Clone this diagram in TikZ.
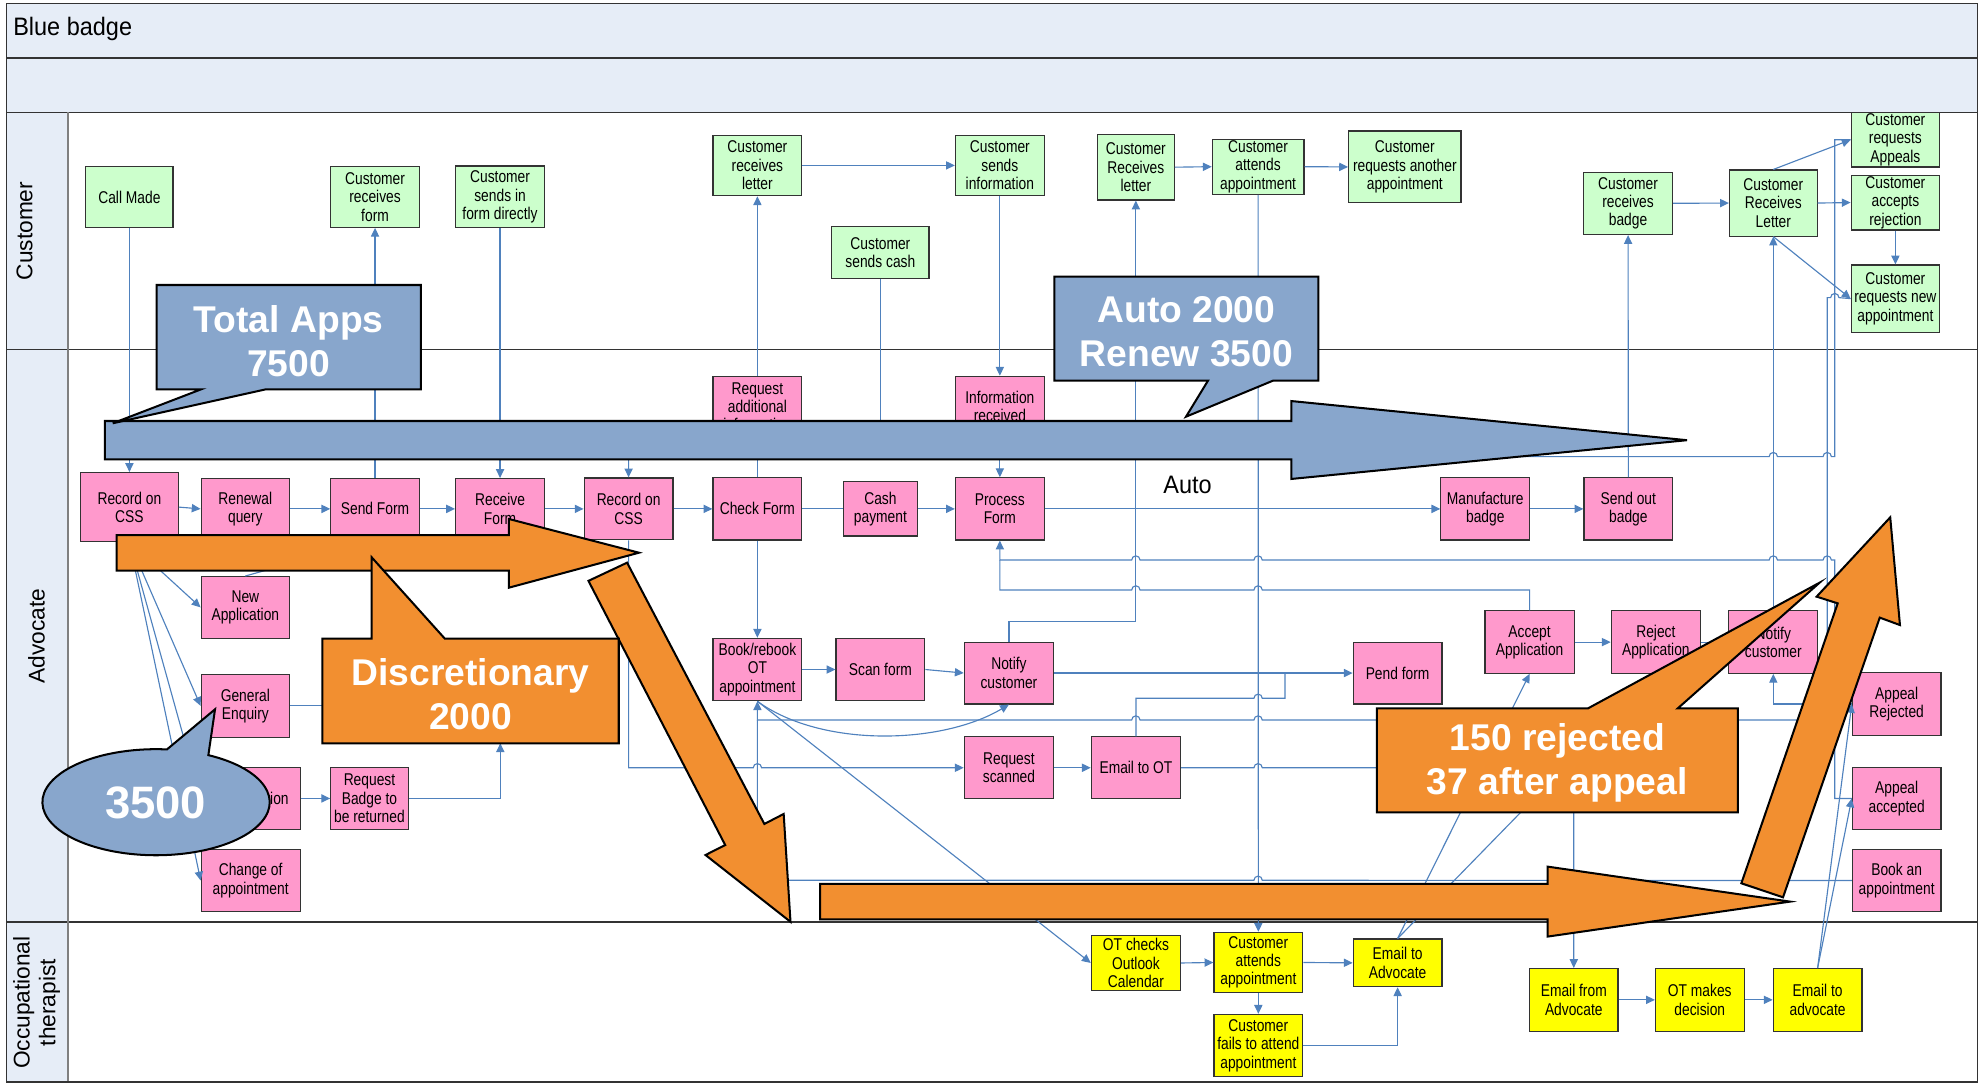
\documentclass[tikz,border=0pt]{standalone}
\usepackage{fontspec}
\setmainfont{Liberation Sans}
\newfontfamily\boxfont[FakeStretch=0.81]{Liberation Sans}
\newfontfamily\narrowfont[FakeStretch=0.93]{Liberation Sans}
\usetikzlibrary{arrows.meta}
\definecolor{laneblue}{HTML}{E6EDF7}
\definecolor{custgreen}{HTML}{CCFFCC}
\definecolor{advpink}{HTML}{FF99CC}
\definecolor{otyellow}{HTML}{FFFF00}
\definecolor{linkblue}{HTML}{4F81BD}
\definecolor{callblue}{HTML}{88A6CC}
\definecolor{callorange}{HTML}{F28F30}

\begin{document}
\begin{tikzpicture}[x=1pt,y=-1pt,
  lanerule/.style={draw=black!80, line width=1.1pt},
  lanelabel/.style={rotate=90, align=center, font=\fontsize{18}{20.5}\selectfont},
  box/.style={draw=black!80, line width=0.9pt, inner sep=0pt, align=center,
    font=\boxfont\fontsize{13.5}{14.5}\selectfont, minimum width=70, minimum height=49},
  cust/.style={box, fill=custgreen},
  adv/.style={box, fill=advpink},
  ot/.style={box, fill=otyellow},
  conn/.style={draw=linkblue, line width=0.9pt},
  arr/.style={conn, -{Triangle[length=7pt,width=6.5pt]}},
  rarr/.style={conn, {Triangle[length=7pt,width=6.5pt]}-},
  jump/.style args={#1/#2}{insert path={-- (#1-3.3,#2) arc[start angle=180,end angle=360,radius=3.3]}},
  bluecall/.style={fill=callblue, draw=black, line width=1.6pt, line join=miter},
  orangecall/.style={fill=callorange, draw=black, line width=1.6pt, line join=miter},
  calltext/.style={text=white, align=center, font=\bfseries\fontsize{29.5}{35}\selectfont}
]
\useasboundingbox (0,0) rectangle (1568,858);

% ---------- pool and swimlanes ----------
\fill[laneblue] (5,3) rectangle (1566,89);
\fill[laneblue] (5,89) rectangle (54,857);
\draw[lanerule] (5,46) -- (1566,46);
\draw[lanerule] (5,89) -- (1566,89);
\draw[lanerule] (5,276.6) -- (1566,276.6);
\draw[lanerule] (5,730) -- (1566,730);
\draw[draw=black!50, line width=1.6pt] (54,89) -- (54,857);
\draw[lanerule] (5,3) rectangle (1566,857);

\node[anchor=west, font=\narrowfont\fontsize{20}{24}\selectfont] (title) at (7,23) {Blue badge};
\node[lanelabel] (lanecust) at (19.5,183) {Customer};
\node[lanelabel] (laneadv) at (29,503.5) {Advocate};
\node[lanelabel] (laneot) at (29,794) {Occupational\\therapist};

% ---------- Customer lane ----------
\node[cust, minimum width=69, minimum height=48] (callmade) at (102.5,156) {Call Made};
\node[cust, minimum height=48] (custrecform) at (297,156) {Customer\\receives\\form};
\node[cust] (custsendsin) at (396,156) {Customer\\sends in\\form directly};
\node[cust, minimum width=70.4, minimum height=48] (custrecletter) at (599.8,131) {Customer\\receives\\letter};
\node[cust, minimum width=70.4, minimum height=48] (custsendsinfo) at (791.8,131) {Customer\\sends\\information};
\node[cust, minimum width=77, minimum height=41] (custcash) at (697.2,200) {Customer\\sends cash};
\node[cust, minimum width=61, minimum height=52] (custletter2) at (899.5,132.4) {Customer\\Receives\\letter};
\node[cust, minimum width=72.6, minimum height=43.6] (custattends) at (996.3,132) {Customer\\attends\\appointment};
\node[cust, minimum width=89, minimum height=57] (custanother) at (1112.5,132.2) {Customer\\requests another\\appointment};
\node[cust, minimum width=70.6, minimum height=49.4] (custbadge) at (1289.3,161) {Customer\\receives\\badge};
\node[cust, minimum width=69.4, minimum height=52.3] (custletter3) at (1404.3,160.8) {Customer\\Receives\\Letter};
\node[cust, minimum height=43] (custappeals) at (1501,110.7) {Customer\\requests\\Appeals};
\node[cust, minimum height=43.5] (custaccepts) at (1501,160.4) {Customer\\accepts\\rejection};
\node[cust, minimum height=53.3] (custnewappt) at (1501,236.5) {Customer\\requests new\\appointment};

% ---------- Advocate lane ----------
\node[adv, minimum width=70.4, minimum height=48] (reqadd) at (599.8,322) {Request\\additional\\information};
\node[adv, minimum width=70.4, minimum height=48] (inforec) at (791.8,322) {Information\\received};
\node[adv, minimum width=77.6, minimum height=54.7] (css1) at (102.5,401.6) {Record on\\CSS};
\node[adv, minimum height=48] (renewal) at (194.3,403) {Renewal\\query};
\node[adv, minimum height=48] (sendform) at (297,403) {Send Form};
\node[adv, minimum width=70.4, minimum height=48] (recvform) at (396,403) {Receive\\Form};
\node[adv, minimum width=70.4] (css2) at (497.8,403) {Record on\\CSS};
\node[adv, minimum width=70.4, minimum height=49.3] (checkform) at (599.8,403) {Check Form};
\node[adv, minimum width=58.3, minimum height=43] (cashpay) at (697.2,403) {Cash\\payment};
\node[adv, minimum width=70.4, minimum height=49.3] (procform) at (791.8,403) {Process\\Form};
\node[adv, minimum width=70.3, minimum height=49.3] (manuf) at (1176.2,403) {Manufacture\\badge};
\node[adv, minimum width=70.3, minimum height=49.3] (sendout) at (1289.5,403) {Send out\\badge};
\node[adv, minimum height=48.8] (newapp) at (194.3,481) {New\\Application};
\node[adv, minimum height=49.4] (general) at (194.3,559) {General\\Enquiry};
\node[adv, minimum width=78.3, minimum height=48.8] (cancel) at (198.5,632.3) {Cancellation};
\node[adv, minimum width=61.3, minimum height=48.8] (reqbadge) at (292.6,632.3) {Request\\Badge to\\be returned};
\node[adv, minimum width=78.3, minimum height=49.4] (changeappt) at (198.5,697.3) {Change of\\appointment};
\node[adv, minimum width=70.4, minimum height=49.4] (book) at (599.8,530.2) {Book/rebook\\OT\\appointment};
\node[adv, minimum width=70.3, minimum height=49.4] (scan) at (697.2,530.2) {Scan form};
\node[adv, minimum width=70.7] (notify1) at (799,533) {Notify\\customer};
\node[adv, minimum width=70.3] (pend) at (1106.8,533) {Pend form};
\node[adv, minimum width=70.6, minimum height=49.4] (accept) at (1211.3,508.5) {Accept\\Application};
\node[adv, minimum width=70.6, minimum height=49.4] (reject) at (1311.3,508.5) {Reject\\Application};
\node[adv, minimum width=70.6, minimum height=49.4] (notify2) at (1404.3,508.5) {Notify\\customer};
\node[adv, minimum width=70.2, minimum height=49.5] (apprej) at (1502,557.5) {Appeal\\Rejected};
\node[adv, minimum width=70.2, minimum height=48.8] (appacc) at (1502,632.3) {Appeal\\accepted};
\node[adv, minimum width=70.2, minimum height=49.4] (bookan) at (1502,697.3) {Book an\\appointment};
\node[adv, minimum width=70.7] (reqscan) at (799,608) {Request\\scanned};
\node[adv, minimum width=70.7] (emailot) at (899.6,608) {Email to OT};

% ---------- Occupational therapist lane ----------
\node[ot, minimum width=70.7, minimum height=43.3] (otchecks) at (899.6,762.6) {OT checks\\Outlook\\Calendar};
\node[ot, minimum width=70.3, minimum height=47.7] (otattends) at (996.5,762.2) {Customer\\attends\\appointment};
\node[ot, minimum width=70.3, minimum height=49.4] (otfails) at (996.5,828) {Customer\\fails to attend\\appointment};
\node[ot, minimum width=70.3, minimum height=37.7] (emailadv) at (1106.8,762.5) {Email to\\Advocate};
\node[ot, minimum height=49.5] (emailfrom) at (1246.3,791.8) {Email from\\Advocate};
\node[ot, minimum width=70.2, minimum height=49.5] (otdecision) at (1346.1,791.8) {OT makes\\decision};
\node[ot, minimum width=70.3, minimum height=49.5] (emailadv2) at (1439.4,791.8) {Email to\\advocate};

% free ends of connectors that run under other shapes
\coordinate (cashend) at (697.2,352);
\coordinate (hidwest) at (361,559);
\coordinate (hidsouth) at (396.2,588.6);

% ---------- connectors ----------
\draw[arr] (callmade.south) -- (css1.north);
\draw[arr] (sendform.north) -- (custrecform.south);
\draw[arr] (custsendsin.south) -- (recvform.north);
\draw[conn] (checkform.north) -- (reqadd.south);
\draw[arr] (reqadd.north) -- (custrecletter.south);
\draw[arr] (custrecletter.east) -- (custsendsinfo.west);
\draw[arr] (custsendsinfo.south) -- (inforec.north);
\draw[arr] (inforec.south) -- (procform.north);
\draw[conn] (custcash.south) -- (cashend);
\draw[conn] (checkform.east) -- (cashpay.west);
\draw[arr] (cashpay.east) -- (procform.west);

\draw[arr] (css1.east) -- (renewal.west);
\draw[arr] (renewal.east) -- (sendform.west);
\draw[arr] (sendform.east) -- (recvform.west);
\draw[arr] (recvform.east) -- (css2.west);
\draw[arr] (css2.east) -- (checkform.west);
\draw[arr] (procform.east) -- (manuf.west);
\draw[arr] (manuf.east) -- (sendout.west);
\draw[arr] (sendout.north) -- (custbadge.south);
\draw[arr] (custbadge.east) -- (custletter3.west);
\draw[arr] (custletter3.north) -- (custappeals.west);
\draw[arr] (custletter3.east) -- (custaccepts.west);
\draw[arr] (custaccepts.south) -- (custnewappt.north);
\draw[arr] (custletter3.south) -- (custnewappt.west);

\draw[arr] (notify1.north) |- (899.5,492.3) -- (custletter2.south);
\draw[arr] (custletter2.east) -- (custattends.west);
\draw[arr] (custattends.east) -- (custanother.west);
\draw[arr] (custattends.south) -- (otattends.north);

\draw[arr] (otchecks.east) -- (otattends.west);
\draw[arr] (otattends.east) -- (emailadv.west);
\draw[arr] (otattends.south) -- (otfails.north);
\draw[arr] (otfails.east) -| (emailadv.south);
\draw[arr] (emailadv.north) -- (accept.south);
\draw[arr] (emailadv.north) -- (reject.south);
\draw[arr] (accept.east) -- (reject.west);
\draw[arr] (reject.east) -- (notify2.west);
\draw[arr] (notify2.north) -- (custletter3.south);
\draw[arr] (apprej.west) -| (notify2.south);
\draw[arr] (emailadv2.north) -- (appacc.west);
\draw[arr] (emailadv2.north) -- (apprej.west);

\draw[rarr] (procform.south) -- (791.8,443.5) [jump=899.5/443.5] [jump=996.3/443.5]
  [jump=1404.3/443.5] [jump=1447/443.5] -- (1453,443.5) -- (1453,632.3) -- (appacc.west);
\draw[conn] (791.8,443.5) -- (791.8,467.2) [jump=899.5/467.2] [jump=996.3/467.2]
  -- (1211.3,467.2) -- (accept.north);
\draw[rarr] (css2.north) -- (497.8,361.6) [jump=1404.3/361.6] [jump=1447/361.6]
  -- (1453,361.6) -- (1453,110.7) -- (custappeals.west);
\draw[rarr] (book.south) -- (599.8,570.2) [jump=899.5/570.2] [jump=996.3/570.2]
  -- (1447,570.2) -- (1447,235.7) [jump=1453/235.7] -- (custnewappt.west);
\draw[conn] (599.8,570.2) -- (599.8,697.1) [jump=996.3/697.1] -- (bookan.west);
\draw[arr] (book.south) .. controls (650,592) and (745,590) .. (notify1.south);
\draw[arr] (book.south) -- (otchecks.west);
\draw[arr] (checkform.south) -- (book.north);
\draw[arr] (book.east) -- (scan.west);
\draw[arr] (scan.east) -- (notify1.west);
\draw[arr] (notify1.east) -- (pend.west);
\draw[conn] (emailot.north) -- (899.6,553) [jump=996.3/553] -- (1017.6,553) -- (1017.6,533);
\draw[arr] (css2.south) -- (497.8,608) [jump=599.8/608] -- (reqscan.west);
\draw[arr] (reqscan.east) -- (emailot.west);
\draw[arr] (emailot.east) [jump=996.3/608] -- (1246.3,608) -- (emailfrom.north);
\draw[arr] (emailfrom.east) -- (otdecision.west);
\draw[arr] (otdecision.east) -- (emailadv2.west);

\draw[arr] (css1.south) -- (newapp.west);
\draw[arr] (css1.south) -- (general.west);
\draw[arr] (css1.south) -- (cancel.west);
\draw[arr] (css1.south) -- (changeappt.west);
\draw[arr] (newapp.north) -- (sendform.south);
\draw[conn] (general.east) -- (hidwest);
\draw[arr] (cancel.east) -- (reqbadge.west);
\draw[arr] (reqbadge.east) -| (hidsouth);

% ---------- volume arrows ----------
\draw[bluecall] (83,333.4) -- (1022.6,333.4) -- (1022.6,317.6) -- (1336,348.6)
  -- (1022.6,379.3) -- (1022.6,363.7) -- (83,363.7) -- cycle;
\draw[orangecall] (92.3,423.7) -- (403,423.7) -- (403,411) -- (506,437.7)
  -- (403,465.4) -- (403,451.9) -- (92.3,451.9) -- cycle;
\draw[orangecall] (496.6,445.6) -- (605.3,652.5) -- (620.6,644.6) -- (626,730)
  -- (558.7,677.1) -- (574.3,669.2) -- (466,460) -- cycle;
\draw[orangecall] (649.4,700) -- (1225.6,700) -- (1225.6,686.3) -- (1417.6,714)
  -- (1225.6,741.7) -- (1225.6,728) -- (649.4,728) -- cycle;
\draw[orangecall] (1379,699.5) -- (1455.3,477.8) -- (1438.6,472.5) -- (1496.9,409.7)
  -- (1504.6,495) -- (1488.6,489.1) -- (1412,710.6) -- cycle;

\node[font=\narrowfont\fontsize{20}{24}\selectfont] (autolabel) at (940.5,384) {Auto};

% ---------- callouts ----------
\draw[bluecall] (124,225.7) -- (333.3,225.7) -- (333.3,308.3) -- (210.6,308.3)
  -- (89.3,335.2) -- (159.3,308.3) -- (124,308.3) -- cycle;
\node[calltext] (totalapps) at (228.6,270) {Total Apps\\7500};

\draw[bluecall] (835,219) -- (1044,219) -- (1044,301.5) -- (1008,301.5)
  -- (939.2,330) -- (956.6,301.5) -- (835,301.5) -- cycle;
\node[calltext] (autorenew) at (939.5,263) {Auto 2000\\Renew 3500};

\draw[orangecall] (255.3,505.8) -- (294.3,505.8) -- (294.3,441.3) -- (352.3,505.8)
  -- (490,505.8) -- (490,588.6) -- (255.3,588.6) -- cycle;
\node[calltext] (discr) at (372.6,549.5) {Discretionary\\2000};

\draw[orangecall] (1090.3,561) -- (1257.5,561) -- (1441,461.4) -- (1328.6,561)
  -- (1376.2,561) -- (1376.2,643.3) -- (1090.3,643.3) -- cycle;
\node[calltext] (rejected) at (1233.3,604) {150 rejected\\37 after appeal};

\draw[bluecall] (165,598) arc[start angle=-62.6,end angle=275.5,x radius=90,y radius=42]
  -- (170.3,561.7) -- cycle;
\node[calltext, font=\bfseries\fontsize{36}{40}\selectfont] (threefive) at (123.3,635.5) {3500};

\end{tikzpicture}
\end{document}
